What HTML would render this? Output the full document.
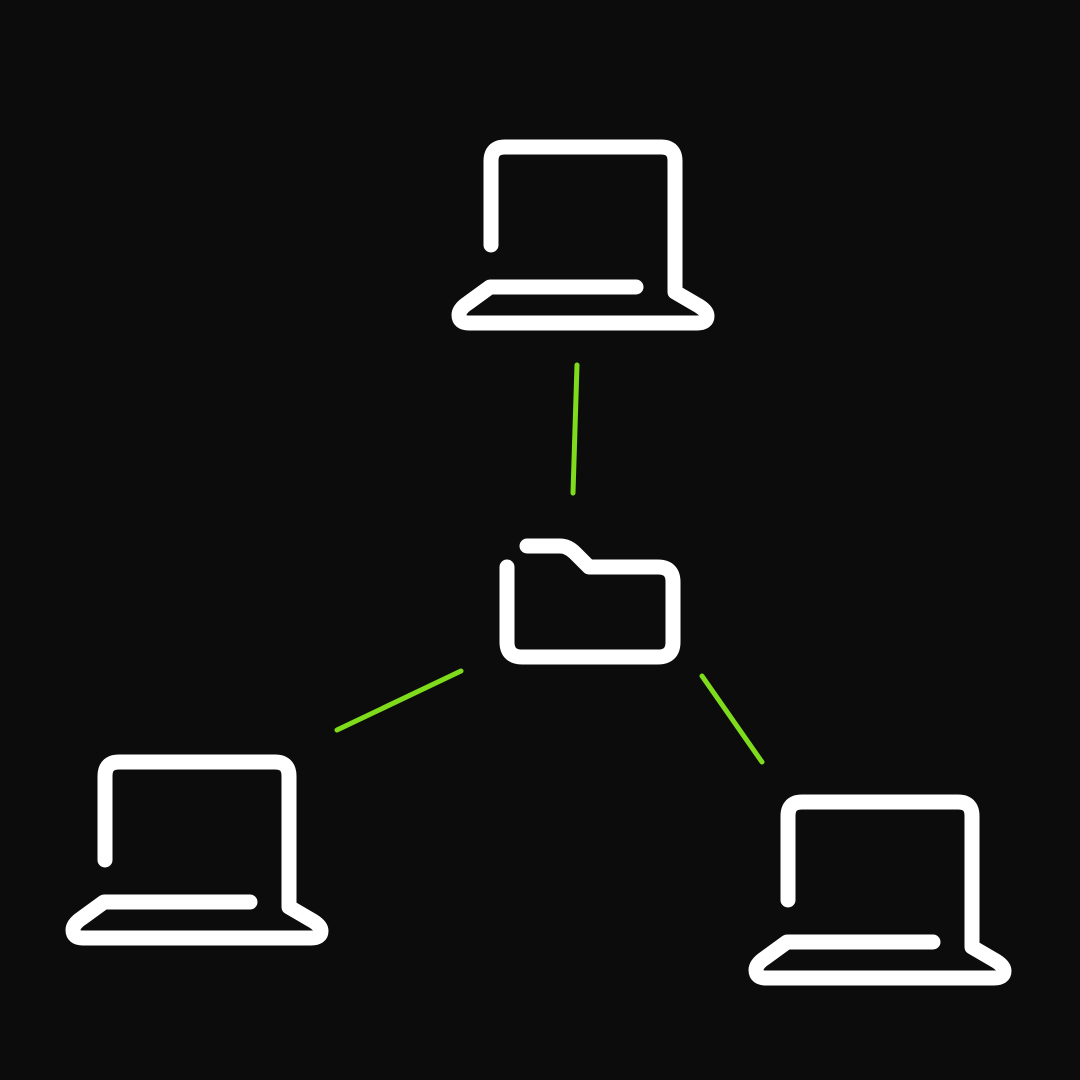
<!DOCTYPE html>
<html><head><style>html,body{margin:0;padding:0;background:#0c0c0c;}svg{display:block}</style></head>
<body>
<svg width="1080" height="1080" viewBox="0 0 1080 1080" xmlns="http://www.w3.org/2000/svg">
<rect width="1080" height="1080" fill="#0c0c0c"/>
<defs>
<path id="lap" d="M491,245 V161 Q491,147 505,147 H661 Q675,147 675,161 V292 L699,306 Q707,311 707,316 Q707,323 697,323 H469 Q459,323 459,315 Q459,309 468,303 L490,287 H636" fill="none" stroke="#fff" stroke-width="15" stroke-linecap="round" stroke-linejoin="round"/>
</defs>
<use href="#lap"/>
<use href="#lap" transform="translate(-386,615)"/>
<use href="#lap" transform="translate(297,655)"/>
<path d="M507,567 V642 Q507,657 522,657 H658 Q673,657 673,642 V582 Q673,567 658,567 H589 L575,553 Q568,546 560,546 H527" fill="none" stroke="#fff" stroke-width="15" stroke-linecap="round" stroke-linejoin="round"/>
<g stroke="#7fdc1c" stroke-width="5" stroke-linecap="round">
<line x1="577" y1="365" x2="573" y2="493"/>
<line x1="461" y1="671" x2="337" y2="730"/>
<line x1="702" y1="676" x2="762" y2="762"/>
</g>
</svg>
</body></html>
